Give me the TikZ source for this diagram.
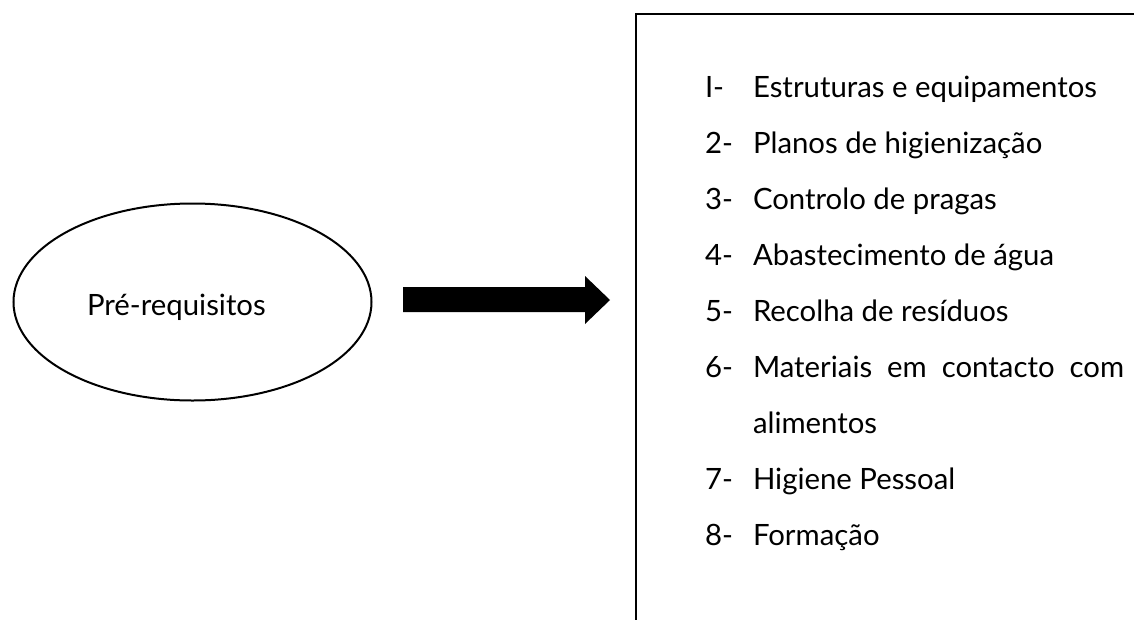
\documentclass[tikz,border=0pt]{standalone}
\usepackage{fontspec}
\setmainfont{Lato}
\usetikzlibrary{shapes.geometric}
\newlength\itemw
\begin{document}
\settowidth{\itemw}{\fontsize{20}{24}\selectfont Estruturas e equipamentos}%
\pgfmathsetmacro{\fsz}{20*344/\itemw}%
\begin{tikzpicture}[x=1pt,y=-1pt,
  every node/.style={inner sep=0pt,outer sep=0pt},
  itemtxt/.style={anchor=base west,font=\fontsize{\fsz}{\fsz}\selectfont},
  outline/.style={draw=black,line width=2pt}]
\clip (0,0) rectangle (1134,619);
\fill[white] (0,0) rectangle (1134,619);
% ellipse
\node[outline,ellipse,minimum width=358pt,minimum height=197pt] (pre) at (192.5,302) {};
\node[itemtxt] (pretxt) at (87,315) {Pré-requisitos};
% block arrow
\coordinate (a1) at (403,287);
\fill[black] (a1) -- (585,287) -- (585,276) -- (610,300) -- (585,324) -- (585,312) -- (403,312) -- cycle;
% box
\draw[outline] (636,650) -- (636,14) -- (1150,14);
% items
\foreach \n/\t [count=\i from 0] in {I-/Estruturas e equipamentos,2-/Planos de higienização,3-/Controlo de pragas,4-/Abastecimento de água,5-/Recolha de resíduos}{
  \node[itemtxt] (num\i) at (705,97+56*\i) {\n};
  \node[itemtxt] (txt\i) at (753,97+56*\i) {\t};
}
\node[itemtxt] (num5) at (705,377) {6-};
\node[itemtxt] (txt5) at (753,377) {\makebox[371pt][s]{Materiais em contacto com}};
\node[itemtxt] (txt5b) at (753,433) {alimentos};
\node[itemtxt] (num6) at (705,489) {7-};
\node[itemtxt] (txt6) at (753,489) {Higiene Pessoal};
\node[itemtxt] (num7) at (705,545) {8-};
\node[itemtxt] (txt7) at (753,545) {Formação};
\end{tikzpicture}
\end{document}
